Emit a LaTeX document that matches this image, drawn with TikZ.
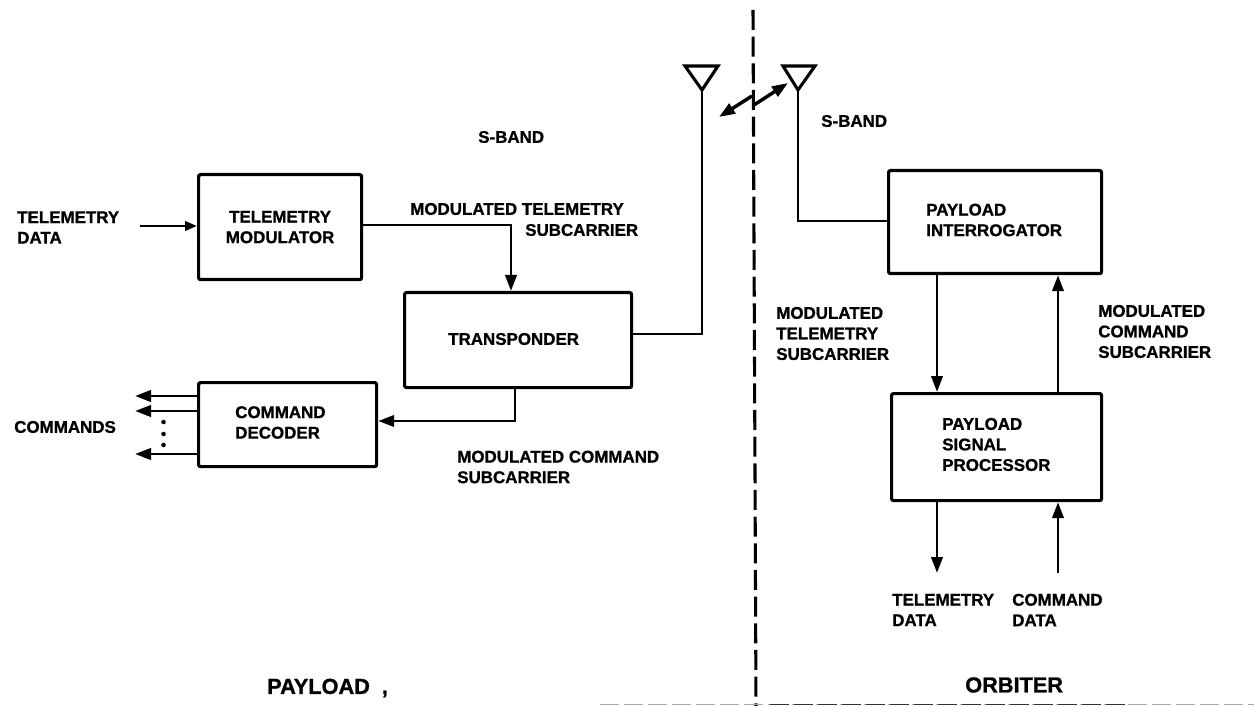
\documentclass[tikz,border=0pt]{standalone}
\usepackage{fontspec}
\setmainfont[BoldFeatures={FakeBold=1.0}]{Liberation Sans}
\usetikzlibrary{arrows.meta,calc}
\tikzset{
  x=0.75pt,y=-0.75pt,
  box/.style={draw=black,line width=2.4pt,inner sep=0pt,anchor=north west,rounded corners=1.5pt},
  lab/.style={font=\fontsize{12.7}{15.4}\selectfont\bfseries,align=left,anchor=west,inner sep=0pt,text=black},
  wire/.style={draw=black,line width=2.2pt},
  arr/.style={wire,-{Triangle[length=12pt,width=8.5pt]}},
  big/.style={lab,font=\fontsize{16.3}{18}\selectfont\bfseries,anchor=west},
  ant/.style={draw=black,line width=2.3pt,line join=miter,fill=white},
  bord/.style={draw=black,line width=2.3pt,dash pattern=on 15pt off 5pt}
}
\begin{document}
\begin{tikzpicture}
\useasboundingbox (0,0) rectangle (1254,706);
% boxes
\node[box,minimum width=163*0.75pt,minimum height=105*0.75pt] (tm) at (197,173) {};
\node[lab,align=center,anchor=center] at (tm.center) {TELEMETRY\\MODULATOR};
\node[box,minimum width=227*0.75pt,minimum height=95*0.75pt] (tr) at (403,291) {};
\node[lab] at (448,339) {TRANSPONDER};
\node[box,minimum width=178*0.75pt,minimum height=84*0.75pt] (cd) at (197,381) {};
\node[lab] at (235,422.5) {COMMAND\\DECODER};
\node[box,minimum width=213*0.75pt,minimum height=103*0.75pt] (pi) at (887,169) {};
\node[lab] at (926,220) {PAYLOAD\\INTERROGATOR};
\node[box,minimum width=210*0.75pt,minimum height=107*0.75pt] (sp) at (890,392) {};
\node[lab] at (942,444.5) {PAYLOAD\\SIGNAL\\PROCESSOR};
% divider
\coordinate (d1) at (753,10);
\coordinate (d2) at (756,706);
\draw[bord] (d1) -- (d2);
% antennas
\coordinate (a1) at (702,90);
\coordinate (a2) at (798,90);
\draw[ant] (685,66) -- (718,66) -- (a1) -- cycle;
\draw[ant] (783,66) -- (815,66) -- (a2) -- cycle;
% radio link
\coordinate (l1) at (719,117);
\coordinate (l2) at (752,96);
\coordinate (l3) at (754,105);
\coordinate (l4) at (788,83);
\draw[wire,line width=2.6pt,{Triangle[length=12pt,width=8.5pt]}-] (l1) -- (l2);
\draw[wire,line width=2.6pt,-{Triangle[length=12pt,width=8.5pt]}] (l3) -- (l4);
% wires
\coordinate (tdin) at (140,226);
\draw[arr,-{Triangle[length=9pt,width=7pt]}] (tdin) -- (tm.west |- tdin);
\draw[arr] (tm.east |- 0,225) -| (tr.north -| 511,0);
\draw[wire] (tr.east |- 0,334) -| (a1);
\draw[wire] (a2) |- (pi.west |- 0,221);
\draw[arr] (tr.south -| 515,0) |- (cd.east |- 0,421);
\coordinate (c1) at (135,396);
\coordinate (c2) at (135,411);
\coordinate (c3) at (135,454);
\draw[arr] (cd.west |- c1) -- (c1);
\draw[arr] (cd.west |- c2) -- (c2);
\draw[arr] (cd.west |- c3) -- (c3);
\fill (163.5,422) circle (1.7pt) (163.5,434) circle (1.7pt) (163.5,445) circle (1.7pt);
\draw[arr] (pi.south -| 937,0) -- (sp.north -| 937,0);
\draw[arr] (sp.north -| 1058,0) -- (pi.south -| 1058,0);
\coordinate (o1) at (937,573);
\coordinate (o2) at (1058,573);
\draw[arr] (sp.south -| o1) -- (o1);
\draw[arr] (o2) -- (sp.south -| o2);
% labels
\node[lab] at (17,227.5) {TELEMETRY\\DATA};
\node[lab] at (14,427) {COMMANDS};
\node[lab] at (478,137) {S-BAND};
\node[lab] at (821,121) {S-BAND};
\node[lab] at (410,209) {MODULATED TELEMETRY};
\node[lab] at (525,230) {SUBCARRIER};
\node[lab] at (457,467) {MODULATED COMMAND\\SUBCARRIER};
\node[lab] at (776,333.5) {MODULATED\\TELEMETRY\\SUBCARRIER};
\node[lab] at (1098,331.5) {MODULATED\\COMMAND\\SUBCARRIER};
\node[lab] at (892,610) {TELEMETRY\\DATA};
\node[lab] at (1012,610) {COMMAND\\DATA};
\node[big] at (267,688) {PAYLOAD\hspace{0.55em},};
\node[big] at (965,685) {ORBITER};
% lower scan edge
\coordinate (e0) at (600,704.5);
\coordinate (e1) at (770,704.5);
\coordinate (e2) at (1125,704.5);
\coordinate (e3) at (1254,704.5);
\draw[black!35,line width=1pt,dash pattern=on 14pt off 4pt] (e0) -- (e3);
\draw[black!80,line width=1.2pt,dash pattern=on 14pt off 4pt] (e1) -- (e2);
\end{tikzpicture}
\end{document}
